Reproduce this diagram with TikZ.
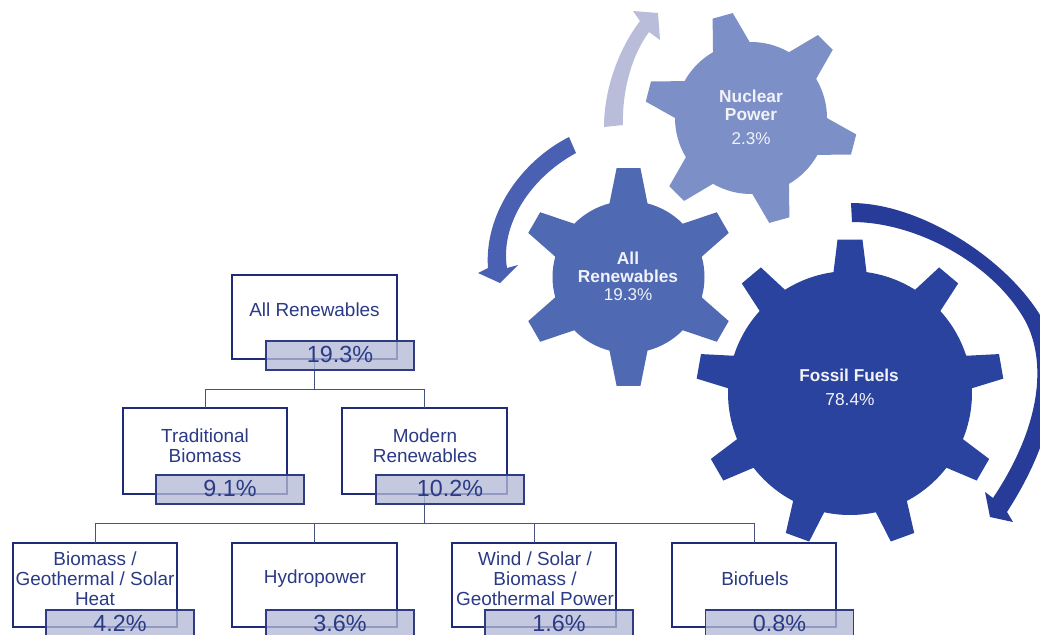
\documentclass[tikz,border=0pt]{standalone}
\usepackage{fontspec}
\setmainfont{Liberation Sans}
\definecolor{boxline}{HTML}{1F2A78}
\definecolor{pctline}{HTML}{2F3C82}
\definecolor{pctfill}{HTML}{B4BAD6}
\definecolor{linkline}{HTML}{46527F}
\definecolor{treetext}{HTML}{2A3A85}
\definecolor{geartext}{HTML}{F2F3F8}
\definecolor{gearA}{HTML}{7C8FC6}
\definecolor{gearB}{HTML}{4F69B2}
\definecolor{gearC}{HTML}{2A439E}
\definecolor{arrowA}{HTML}{B9BDD9}
\definecolor{arrowB}{HTML}{4A60B3}
\definecolor{arrowC}{HTML}{273B99}
\tikzset{
  mainbox/.style={draw=boxline,line width=1.6pt,fill=white,minimum width=123.4pt,outer sep=0pt,inner sep=0pt},
  pctbox/.style={draw=pctline,line width=.8pt,fill=pctfill,fill opacity=.78,text opacity=1,text=treetext,
    minimum width=111pt,minimum height=21.75pt,outer sep=0pt,inner sep=0pt,font=\fontsize{17.5pt}{18pt}\selectfont},
  treelabel/.style={text=treetext,align=center,inner sep=0pt,font=\fontsize{14.2pt}{15pt}\selectfont},
  gearlabel/.style={text=geartext,align=center,inner sep=0pt},
  gearbold/.style={gearlabel,font=\fontsize{13pt}{14pt}\selectfont\bfseries},
  gearplain/.style={gearlabel,font=\fontsize{12.8pt}{14pt}\selectfont},
  link/.style={draw=linkline,line width=.75pt}
}
\newcommand{\pctval}[1]{\raisebox{1.6pt}{#1}}
% #1 cx, #2 cy, #3 colour, #4 last tooth index, #5 first angle, #6 step, #7 body radius, #8 tip radius, #9 half width of tip; \gearbase half width of base
\newcommand{\gearshape}[9]{%
  \begin{scope}[shift={(#1,#2)},x=.75pt,y=.75pt]
    \def\gearb{#9}%
    \pgfmathsetmacro{\goff}{asin(\gearbase/#7)}%
    \pgfmathsetmacro{\got}{atan(\gearb/#8)}%
    \fill[#3] ({#5+\goff}:#7)
      \foreach \i in {0,...,#4} {
        \pgfextra{\pgfmathsetmacro{\ga}{#5-\i*#6}}
        -- ({\ga+\got}:#8) -- ({\ga-\got}:#8) -- ({\ga-\goff}:#7)
        arc[start angle={\ga-\goff},delta angle={-(#6-2*\goff)},radius=#7]
      } -- cycle;
  \end{scope}}
\begin{document}
\begin{tikzpicture}[x=.75pt,y=-.75pt]
\clip (0,0) rectangle (1040,635);
\fill[white] (0,0) rectangle (1040,635);

% arrows
\fill[arrowA] (604,127) .. controls (604,90) and (618,50) .. (640,21)
  -- (633,11) -- (658,13) -- (660,40) -- (649,32)
  .. controls (632,55) and (622,90) .. (623,125) -- cycle;
\fill[arrowB] (569,137) .. controls (520,162) and (484,215) .. (488,268)
  -- (478,273) -- (500,283) -- (518,265) -- (507,268)
  .. controls (500,225) and (530,178) .. (576,153) -- cycle;
\fill[arrowC] (851,203) .. controls (920,203) and (1005,258) .. (1040,315)
  .. controls (1066,358) and (1060,430) .. (1007,512)
  -- (1013,522) -- (990,517) -- (985,492) -- (993,498)
  .. controls (1045,420) and (1046,355) .. (1023,317)
  .. controls (990,262) and (915,222) .. (852,222) -- cycle;

% gears
\def\gearbase{19}
\gearshape{751}{118}{gearA}{5}{105.5}{60}{76}{106.5}{10.5}
\def\gearbase{19}
\gearshape{628.5}{277}{gearB}{5}{90}{60}{76}{109.5}{12}
\def\gearbase{16.5}
\gearshape{850}{393}{gearC}{8}{90}{40}{122}{154}{12.5}

% gear labels
\node[gearbold] (lnuca) at (751,96) {Nuclear};
\node[gearbold] (lnucb) at (751,115) {Power};
\node[gearplain] (lnucc) at (751,139) {2.3\%};
\node[gearbold] (lrena) at (628,258) {All};
\node[gearbold] (lrenb) at (628,276) {Renewables};
\node[gearplain] (lrenc) at (628,295) {19.3\%};
\node[gearbold,font=\fontsize{12.9pt}{14pt}\selectfont\bfseries] (lfosa) at (849,375) {Fossil Fuels};
\node[gearplain,font=\fontsize{13pt}{14pt}\selectfont] (lfosb) at (850,400) {78.4\%};

% tree boxes
\node[mainbox,minimum height=63pt] (all) at (314.5,317) {};
\node[mainbox,minimum height=64.5pt] (trad) at (205,451) {};
\node[mainbox,minimum height=64.5pt] (mod) at (424.5,451) {};
\node[mainbox,minimum height=63pt] (heat) at (95,585) {};
\node[mainbox,minimum height=63pt] (hydro) at (314.5,585) {};
\node[mainbox,minimum height=63pt] (wind) at (534,585) {};
\node[mainbox,minimum height=63pt] (bio) at (754,585) {};

% connectors
\coordinate (busa) at (314.5,389);
\coordinate (busb) at (424.5,523);
\draw[link] (all.south) -- (busa);
\draw[link] (busa) -| (trad.north);
\draw[link] (busa) -| (mod.north);
\draw[link] (mod.south) -- (busb);
\draw[link] (busb) -| (heat.north);
\draw[link] (busb) -| (hydro.north);
\draw[link] (busb) -| (wind.north);
\draw[link] (busb) -| (bio.north);

% percentage boxes
\node[pctbox] (pall) at (340,355.5) {\pctval{19.3\%}};
\node[pctbox] (ptrad) at (230,489.5) {\pctval{9.1\%}};
\node[pctbox] (pmod) at (450,489.5) {\pctval{10.2\%}};
\node[pctbox] (pheat) at (120,624.5) {\pctval{4.2\%}};
\node[pctbox] (phydro) at (340,624.5) {\pctval{3.6\%}};
\node[pctbox] (pwind) at (559,624.5) {\pctval{1.6\%}};
\node[pctbox] (pbio) at (779.5,624.5) {\pctval{0.8\%}};

% tree labels
\node[treelabel] (tall) at (314.5,310) {All Renewables};
\node[treelabel] (ttrad) at (205,445.5) {Traditional\\Biomass};
\node[treelabel] (tmod) at (425,445.5) {Modern\\Renewables};
\node[treelabel] (theat) at (95,578.5) {Biomass /\\Geothermal / Solar\\Heat};
\node[treelabel] (thydro) at (315,579) {Hydropower};
\node[treelabel] (twind) at (535,578.5) {Wind / Solar /\\Biomass /\\Geothermal Power};
\node[treelabel] (tbio) at (755,579) {Biofuels};
\end{tikzpicture}
\end{document}
